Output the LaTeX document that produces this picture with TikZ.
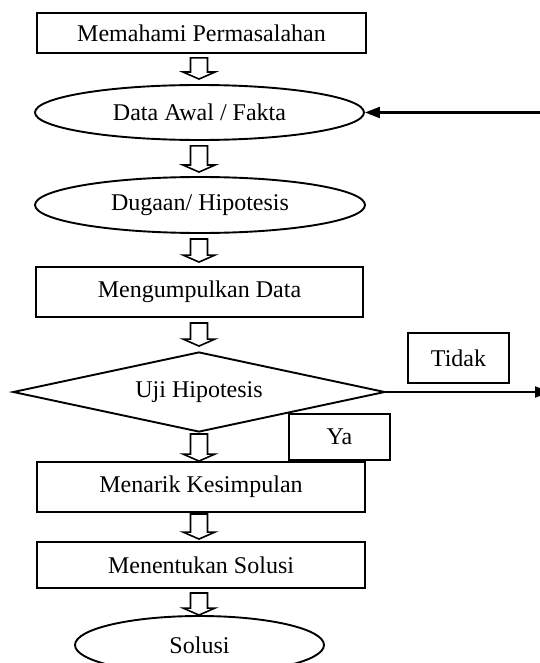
\documentclass[tikz,border=0pt]{standalone}
\usepackage{fontspec}
\setmainfont{Liberation Serif}
\usetikzlibrary{shapes.geometric,arrows.meta,calc}
\tikzset{
  base/.style={draw, line width=1.9pt, inner sep=0pt, font=\fontsize{24}{28}\selectfont},
  boxnode/.style={base, rectangle},
  ellnode/.style={base, ellipse},
  dianode/.style={base, diamond},
  labnode/.style={base, rectangle},
  conn/.style={line width=2.2pt, -{Triangle[length=15pt,width=11pt]}},
  hollow/.style={draw, line width=1.6pt, line join=miter, fill=white}
}
% block arrow from node #1 to node #2; #3 gap below #1, #4 gap above #2
\newcommand{\blockarrow}[4]{%
  \path let \p1=(#1.south), \p2=(#2.north) in
    [hollow] (199pt-8.5pt,\y1-#3) -- (199pt+8.5pt,\y1-#3) -- (199pt+8.5pt,\y2+#4+7pt)
    -- (199pt+16pt,\y2+#4+7pt) -- (199pt,\y2+#4) -- (199pt-16pt,\y2+#4+7pt)
    -- (199pt-8.5pt,\y2+#4+7pt) -- cycle;}
\begin{document}
\begin{tikzpicture}[x=1pt,y=-1pt]
\useasboundingbox (0,0) rectangle (540,663);
\clip (0,0) rectangle (540,663);

\node[boxnode, minimum width=329pt, minimum height=40pt] (b1) at (201.5,33) {Memahami Permasalahan};
\node[ellnode, minimum width=329pt, minimum height=55pt] (e1) at (199.5,112.5) {Data Awal / Fakta};
\node[ellnode, minimum width=330pt, minimum height=56pt] (e2) at (200,205) {Dugaan/ Hipotesis};
\node[boxnode, minimum width=327pt, minimum height=50pt] (b2) at (199.5,292) {Mengumpulkan Data};
\node[dianode, minimum width=372pt, minimum height=80pt, aspect=4.65] (d1) at (199,392) {Uji Hipotesis};
\node[boxnode, minimum width=328pt, minimum height=50pt] (b3) at (201,487) {Menarik Kesimpulan};
\node[boxnode, minimum width=328pt, minimum height=46pt] (b4) at (201,565) {Menentukan Solusi};
\node[ellnode, minimum width=249pt, minimum height=58pt] (e3) at (199.5,645) {Solusi};

\node[labnode, minimum width=101pt, minimum height=50pt] (tidak) at (458.5,358) {Tidak};
\node[labnode, minimum width=101pt, minimum height=46pt] (ya) at (339.5,437) {Ya};

\blockarrow{b1}{e1}{4pt}{5pt}
\blockarrow{e1}{e2}{5pt}{4pt}
\blockarrow{e2}{b2}{5pt}{4pt}
\blockarrow{b2}{d1}{5pt}{5pt}
\blockarrow{d1}{b3}{1pt}{0pt}
\blockarrow{b3}{b4}{1pt}{2pt}
\blockarrow{b4}{e3}{4pt}{0pt}

\coordinate (fbin) at (545,112.5);
\coordinate (noout) at (550,392);
\draw[conn] (fbin) -- (e1.east);
\draw[conn] (d1.east) -- (noout);
\end{tikzpicture}
\end{document}
